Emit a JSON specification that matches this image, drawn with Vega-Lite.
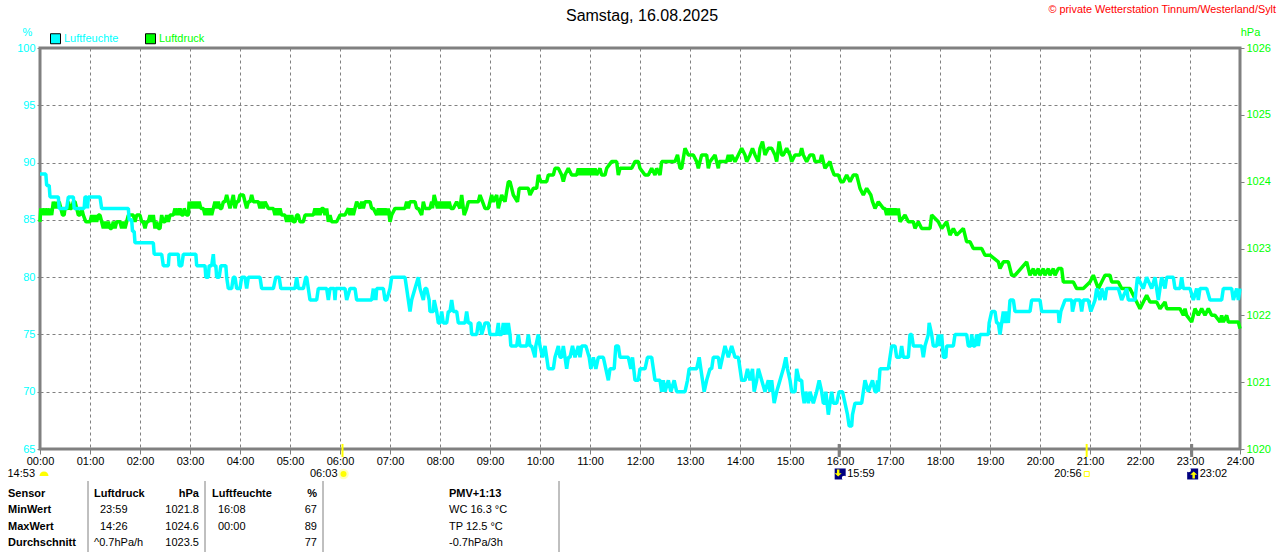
{
  "$schema": "https://vega.github.io/schema/vega-lite/v6.json",
  "background": "white",
  "padding": {"left": 5, "right": 4, "top": 2, "bottom": 0},
  "config": {"font": "Liberation Sans", "view": {"stroke": "#808080", "strokeWidth": 3}},
  "title": {"text": "Samstag, 16.08.2025", "fontSize": 16, "fontWeight": "normal", "color": "#000000", "anchor": "middle", "frame": "group", "dx": 2, "offset": -21},
  "datasets": {
    "feuchte": [
      {"t":0,"v":89},{"t":7,"v":89},{"t":8,"v":88},{"t":11,"v":88},{"t":12,"v":87},{"t":22,"v":87},{"t":23,"v":86},{"t":32,"v":86},{"t":34,"v":87},{"t":40,"v":87},{"t":41,"v":86},{"t":53,"v":86},{"t":54,"v":87},{"t":56,"v":87},{"t":57,"v":86},{"t":58,"v":87},{"t":72,"v":87},{"t":74,"v":86},{"t":106,"v":86},{"t":107,"v":85},{"t":110,"v":85},{"t":111,"v":84},{"t":113,"v":84},{"t":114,"v":83},{"t":136,"v":83},{"t":137,"v":82},{"t":146,"v":82},{"t":148,"v":81},{"t":154,"v":81},{"t":155,"v":82},{"t":166,"v":82},{"t":167,"v":81},{"t":170,"v":81},{"t":172,"v":82},{"t":187,"v":82},{"t":188,"v":81},{"t":198,"v":81},{"t":199,"v":80},{"t":202,"v":80},{"t":203,"v":81},{"t":206,"v":81},{"t":208,"v":82},{"t":209,"v":81},{"t":211,"v":81},{"t":212,"v":80},{"t":215,"v":80},{"t":217,"v":81},{"t":223,"v":81},{"t":224,"v":80},{"t":226,"v":79},{"t":230,"v":79},{"t":232,"v":80},{"t":234,"v":80},{"t":236,"v":79},{"t":240,"v":79},{"t":242,"v":80},{"t":246,"v":80},{"t":248,"v":79},{"t":250,"v":80},{"t":264,"v":80},{"t":266,"v":79},{"t":280,"v":79},{"t":283,"v":80},{"t":287,"v":80},{"t":289,"v":79},{"t":306,"v":79},{"t":308,"v":80},{"t":310,"v":79},{"t":316,"v":79},{"t":319,"v":80},{"t":320,"v":80},{"t":324,"v":78},{"t":332,"v":78},{"t":334,"v":79},{"t":344,"v":79},{"t":346,"v":78},{"t":348,"v":79},{"t":353,"v":79},{"t":354,"v":78},{"t":355,"v":79},{"t":366,"v":79},{"t":368,"v":78},{"t":372,"v":79},{"t":378,"v":79},{"t":380,"v":78},{"t":398,"v":78},{"t":400,"v":79},{"t":401,"v":78},{"t":402,"v":79},{"t":403,"v":78},{"t":404,"v":79},{"t":412,"v":79},{"t":414,"v":78},{"t":416,"v":78},{"t":420,"v":79},{"t":422,"v":80},{"t":438,"v":80},{"t":440,"v":79},{"t":442,"v":78},{"t":444,"v":77},{"t":446,"v":78},{"t":450,"v":79},{"t":454,"v":80},{"t":456,"v":79},{"t":460,"v":78},{"t":462,"v":79},{"t":464,"v":79},{"t":467,"v":78},{"t":468,"v":77},{"t":472,"v":77},{"t":473,"v":78},{"t":476,"v":77},{"t":478,"v":76},{"t":480,"v":76},{"t":482,"v":77},{"t":484,"v":76},{"t":488,"v":76},{"t":490,"v":77},{"t":492,"v":77},{"t":494,"v":78},{"t":496,"v":77},{"t":500,"v":77},{"t":502,"v":76},{"t":510,"v":76},{"t":512,"v":77},{"t":514,"v":76},{"t":517,"v":76},{"t":518,"v":75},{"t":524,"v":75},{"t":526,"v":76},{"t":528,"v":76},{"t":530,"v":75},{"t":534,"v":76},{"t":538,"v":76},{"t":540,"v":75},{"t":548,"v":75},{"t":550,"v":76},{"t":551,"v":75},{"t":554,"v":75},{"t":556,"v":76},{"t":557,"v":75},{"t":559,"v":76},{"t":560,"v":75},{"t":562,"v":76},{"t":564,"v":75},{"t":565,"v":74},{"t":572,"v":74},{"t":574,"v":75},{"t":576,"v":74},{"t":584,"v":74},{"t":586,"v":75},{"t":588,"v":74},{"t":590,"v":74},{"t":594,"v":73},{"t":595,"v":74},{"t":598,"v":75},{"t":600,"v":74},{"t":603,"v":73},{"t":606,"v":74},{"t":608,"v":73},{"t":610,"v":72},{"t":616,"v":72},{"t":618,"v":73},{"t":622,"v":74},{"t":624,"v":73},{"t":626,"v":73},{"t":628,"v":74},{"t":630,"v":73},{"t":632,"v":72},{"t":634,"v":73},{"t":636,"v":73},{"t":639,"v":74},{"t":642,"v":73},{"t":646,"v":74},{"t":648,"v":73},{"t":650,"v":74},{"t":655,"v":74},{"t":659,"v":73},{"t":661,"v":72},{"t":664,"v":73},{"t":667,"v":72},{"t":670,"v":73},{"t":676,"v":73},{"t":679,"v":72},{"t":682,"v":71},{"t":684,"v":72},{"t":689,"v":72},{"t":691,"v":74},{"t":694,"v":74},{"t":696,"v":73},{"t":706,"v":73},{"t":709,"v":72},{"t":711,"v":73},{"t":714,"v":71},{"t":718,"v":71},{"t":720,"v":72},{"t":726,"v":72},{"t":729,"v":73},{"t":734,"v":73},{"t":736,"v":72},{"t":738,"v":71},{"t":744,"v":71},{"t":746,"v":70},{"t":748,"v":71},{"t":750,"v":70},{"t":754,"v":71},{"t":757,"v":70},{"t":761,"v":71},{"t":764,"v":70},{"t":774,"v":70},{"t":777,"v":71},{"t":779,"v":72},{"t":788,"v":72},{"t":791,"v":73},{"t":793,"v":72},{"t":795,"v":71},{"t":797,"v":70},{"t":800,"v":71},{"t":804,"v":72},{"t":806,"v":72},{"t":808,"v":73},{"t":814,"v":73},{"t":816,"v":72},{"t":819,"v":73},{"t":822,"v":74},{"t":826,"v":73},{"t":830,"v":74},{"t":834,"v":73},{"t":838,"v":73},{"t":840,"v":72},{"t":842,"v":71},{"t":846,"v":71},{"t":849,"v":72},{"t":852,"v":71},{"t":855,"v":72},{"t":857,"v":70},{"t":860,"v":71},{"t":862,"v":72},{"t":866,"v":71},{"t":870,"v":70},{"t":874,"v":71},{"t":876,"v":70},{"t":878,"v":71},{"t":881,"v":69},{"t":884,"v":70},{"t":888,"v":71},{"t":892,"v":72},{"t":895,"v":73},{"t":897,"v":72},{"t":900,"v":71},{"t":902,"v":70},{"t":906,"v":70},{"t":908,"v":72},{"t":911,"v":71},{"t":914,"v":71},{"t":915,"v":70},{"t":917,"v":69},{"t":919,"v":70},{"t":922,"v":69},{"t":924,"v":70},{"t":928,"v":69},{"t":932,"v":70},{"t":935,"v":71},{"t":938,"v":70},{"t":940,"v":69},{"t":942,"v":69},{"t":943,"v":70},{"t":946,"v":68},{"t":948,"v":69},{"t":950,"v":70},{"t":952,"v":69},{"t":956,"v":69},{"t":959,"v":70},{"t":963,"v":70},{"t":966,"v":69},{"t":969,"v":68},{"t":971,"v":67},{"t":974,"v":67},{"t":975,"v":68},{"t":978,"v":69},{"t":986,"v":69},{"t":988,"v":70},{"t":990,"v":71},{"t":994,"v":70},{"t":999,"v":71},{"t":1002,"v":70},{"t":1004,"v":70},{"t":1005,"v":71},{"t":1006,"v":70},{"t":1008,"v":72},{"t":1018,"v":72},{"t":1020,"v":73},{"t":1022,"v":74},{"t":1026,"v":74},{"t":1028,"v":73},{"t":1032,"v":73},{"t":1034,"v":74},{"t":1036,"v":73},{"t":1042,"v":73},{"t":1043,"v":74},{"t":1044,"v":75},{"t":1046,"v":75},{"t":1048,"v":74},{"t":1058,"v":74},{"t":1060,"v":73},{"t":1062,"v":74},{"t":1066,"v":75},{"t":1067,"v":76},{"t":1070,"v":75},{"t":1072,"v":74},{"t":1076,"v":74},{"t":1078,"v":75},{"t":1080,"v":74},{"t":1082,"v":75},{"t":1084,"v":73},{"t":1087,"v":73},{"t":1088,"v":74},{"t":1096,"v":74},{"t":1098,"v":75},{"t":1112,"v":75},{"t":1114,"v":74},{"t":1117,"v":74},{"t":1118,"v":75},{"t":1120,"v":74},{"t":1122,"v":74},{"t":1124,"v":75},{"t":1126,"v":74},{"t":1128,"v":75},{"t":1138,"v":75},{"t":1139,"v":76},{"t":1142,"v":77},{"t":1146,"v":77},{"t":1148,"v":76},{"t":1150,"v":76},{"t":1152,"v":75},{"t":1154,"v":76},{"t":1156,"v":77},{"t":1158,"v":76},{"t":1160,"v":77},{"t":1162,"v":76},{"t":1164,"v":78},{"t":1168,"v":78},{"t":1170,"v":77},{"t":1188,"v":77},{"t":1190,"v":78},{"t":1200,"v":78},{"t":1202,"v":77},{"t":1222,"v":77},{"t":1223,"v":76},{"t":1225,"v":77},{"t":1230,"v":78},{"t":1238,"v":78},{"t":1239,"v":77},{"t":1242,"v":78},{"t":1248,"v":78},{"t":1250,"v":77},{"t":1252,"v":78},{"t":1258,"v":78},{"t":1261,"v":77},{"t":1266,"v":78},{"t":1268,"v":79},{"t":1272,"v":78},{"t":1274,"v":79},{"t":1278,"v":78},{"t":1280,"v":79},{"t":1294,"v":79},{"t":1298,"v":78},{"t":1304,"v":79},{"t":1306,"v":78},{"t":1314,"v":78},{"t":1317,"v":80},{"t":1324,"v":79},{"t":1328,"v":80},{"t":1334,"v":79},{"t":1338,"v":80},{"t":1342,"v":78},{"t":1346,"v":80},{"t":1350,"v":79},{"t":1352,"v":80},{"t":1360,"v":80},{"t":1362,"v":79},{"t":1368,"v":79},{"t":1370,"v":80},{"t":1372,"v":79},{"t":1380,"v":79},{"t":1384,"v":78},{"t":1388,"v":79},{"t":1390,"v":78},{"t":1392,"v":79},{"t":1400,"v":79},{"t":1404,"v":78},{"t":1418,"v":78},{"t":1420,"v":79},{"t":1430,"v":79},{"t":1432,"v":78},{"t":1436,"v":79},{"t":1438,"v":78},{"t":1440,"v":79}
    ],
    "druck": [
      {"t":0,"v":1023.4},{"t":1,"v":1023.6},{"t":2,"v":1023.5},{"t":3,"v":1023.6},{"t":5,"v":1023.5},{"t":6,"v":1023.6},{"t":8,"v":1023.5},{"t":9,"v":1023.6},{"t":11,"v":1023.5},{"t":12,"v":1023.6},{"t":14,"v":1023.5},{"t":15,"v":1023.6},{"t":16,"v":1023.7},{"t":18,"v":1023.6},{"t":19,"v":1023.7},{"t":21,"v":1023.6},{"t":23,"v":1023.7},{"t":25,"v":1023.6},{"t":27,"v":1023.5},{"t":29,"v":1023.5},{"t":30,"v":1023.6},{"t":33,"v":1023.6},{"t":34,"v":1023.7},{"t":36,"v":1023.6},{"t":38,"v":1023.6},{"t":40,"v":1023.7},{"t":42,"v":1023.7},{"t":44,"v":1023.6},{"t":46,"v":1023.5},{"t":48,"v":1023.5},{"t":50,"v":1023.6},{"t":52,"v":1023.5},{"t":55,"v":1023.4},{"t":60,"v":1023.4},{"t":62,"v":1023.5},{"t":64,"v":1023.4},{"t":66,"v":1023.5},{"t":68,"v":1023.4},{"t":70,"v":1023.5},{"t":72,"v":1023.5},{"t":74,"v":1023.4},{"t":76,"v":1023.3},{"t":78,"v":1023.4},{"t":80,"v":1023.3},{"t":82,"v":1023.4},{"t":84,"v":1023.3},{"t":86,"v":1023.3},{"t":88,"v":1023.4},{"t":90,"v":1023.3},{"t":92,"v":1023.4},{"t":96,"v":1023.4},{"t":98,"v":1023.3},{"t":100,"v":1023.4},{"t":102,"v":1023.3},{"t":104,"v":1023.4},{"t":106,"v":1023.5},{"t":112,"v":1023.5},{"t":114,"v":1023.4},{"t":116,"v":1023.5},{"t":120,"v":1023.5},{"t":122,"v":1023.4},{"t":124,"v":1023.4},{"t":126,"v":1023.3},{"t":128,"v":1023.4},{"t":130,"v":1023.4},{"t":132,"v":1023.5},{"t":134,"v":1023.4},{"t":136,"v":1023.5},{"t":138,"v":1023.3},{"t":140,"v":1023.4},{"t":142,"v":1023.3},{"t":144,"v":1023.3},{"t":146,"v":1023.5},{"t":148,"v":1023.4},{"t":150,"v":1023.4},{"t":152,"v":1023.5},{"t":154,"v":1023.4},{"t":156,"v":1023.5},{"t":160,"v":1023.5},{"t":162,"v":1023.6},{"t":163,"v":1023.5},{"t":165,"v":1023.6},{"t":166,"v":1023.5},{"t":168,"v":1023.6},{"t":170,"v":1023.5},{"t":172,"v":1023.5},{"t":173,"v":1023.6},{"t":176,"v":1023.5},{"t":178,"v":1023.5},{"t":179,"v":1023.7},{"t":181,"v":1023.6},{"t":183,"v":1023.7},{"t":185,"v":1023.6},{"t":187,"v":1023.7},{"t":189,"v":1023.6},{"t":191,"v":1023.7},{"t":193,"v":1023.6},{"t":196,"v":1023.6},{"t":198,"v":1023.5},{"t":200,"v":1023.6},{"t":202,"v":1023.5},{"t":204,"v":1023.6},{"t":206,"v":1023.5},{"t":208,"v":1023.6},{"t":210,"v":1023.7},{"t":212,"v":1023.6},{"t":214,"v":1023.7},{"t":216,"v":1023.6},{"t":218,"v":1023.6},{"t":220,"v":1023.7},{"t":222,"v":1023.7},{"t":224,"v":1023.8},{"t":226,"v":1023.7},{"t":228,"v":1023.6},{"t":230,"v":1023.7},{"t":232,"v":1023.8},{"t":234,"v":1023.6},{"t":236,"v":1023.7},{"t":238,"v":1023.7},{"t":240,"v":1023.8},{"t":244,"v":1023.8},{"t":246,"v":1023.7},{"t":248,"v":1023.6},{"t":250,"v":1023.7},{"t":252,"v":1023.7},{"t":254,"v":1023.8},{"t":256,"v":1023.7},{"t":262,"v":1023.7},{"t":264,"v":1023.6},{"t":266,"v":1023.7},{"t":268,"v":1023.6},{"t":270,"v":1023.7},{"t":274,"v":1023.6},{"t":280,"v":1023.6},{"t":282,"v":1023.5},{"t":284,"v":1023.6},{"t":286,"v":1023.5},{"t":288,"v":1023.6},{"t":290,"v":1023.5},{"t":294,"v":1023.5},{"t":296,"v":1023.4},{"t":298,"v":1023.5},{"t":300,"v":1023.4},{"t":302,"v":1023.5},{"t":304,"v":1023.4},{"t":306,"v":1023.4},{"t":308,"v":1023.5},{"t":310,"v":1023.5},{"t":312,"v":1023.4},{"t":316,"v":1023.4},{"t":318,"v":1023.5},{"t":328,"v":1023.5},{"t":330,"v":1023.6},{"t":332,"v":1023.5},{"t":334,"v":1023.6},{"t":336,"v":1023.5},{"t":338,"v":1023.6},{"t":340,"v":1023.6},{"t":342,"v":1023.5},{"t":344,"v":1023.6},{"t":346,"v":1023.4},{"t":348,"v":1023.5},{"t":350,"v":1023.4},{"t":356,"v":1023.4},{"t":360,"v":1023.5},{"t":366,"v":1023.5},{"t":370,"v":1023.6},{"t":372,"v":1023.5},{"t":374,"v":1023.6},{"t":376,"v":1023.5},{"t":380,"v":1023.7},{"t":384,"v":1023.6},{"t":386,"v":1023.7},{"t":388,"v":1023.6},{"t":390,"v":1023.7},{"t":396,"v":1023.7},{"t":398,"v":1023.6},{"t":400,"v":1023.6},{"t":404,"v":1023.5},{"t":406,"v":1023.6},{"t":408,"v":1023.5},{"t":410,"v":1023.6},{"t":412,"v":1023.5},{"t":414,"v":1023.6},{"t":416,"v":1023.5},{"t":418,"v":1023.6},{"t":420,"v":1023.4},{"t":422,"v":1023.5},{"t":426,"v":1023.6},{"t":438,"v":1023.6},{"t":440,"v":1023.7},{"t":442,"v":1023.6},{"t":444,"v":1023.7},{"t":450,"v":1023.7},{"t":452,"v":1023.6},{"t":454,"v":1023.6},{"t":458,"v":1023.5},{"t":460,"v":1023.7},{"t":462,"v":1023.6},{"t":468,"v":1023.6},{"t":470,"v":1023.7},{"t":471,"v":1023.6},{"t":473,"v":1023.8},{"t":475,"v":1023.7},{"t":477,"v":1023.6},{"t":479,"v":1023.7},{"t":481,"v":1023.6},{"t":483,"v":1023.7},{"t":485,"v":1023.6},{"t":487,"v":1023.7},{"t":489,"v":1023.6},{"t":491,"v":1023.7},{"t":493,"v":1023.6},{"t":496,"v":1023.6},{"t":500,"v":1023.7},{"t":504,"v":1023.6},{"t":506,"v":1023.8},{"t":509,"v":1023.5},{"t":512,"v":1023.6},{"t":514,"v":1023.7},{"t":526,"v":1023.7},{"t":528,"v":1023.8},{"t":531,"v":1023.7},{"t":534,"v":1023.6},{"t":538,"v":1023.6},{"t":540,"v":1023.7},{"t":542,"v":1023.8},{"t":544,"v":1023.7},{"t":548,"v":1023.8},{"t":550,"v":1023.6},{"t":554,"v":1023.8},{"t":558,"v":1023.7},{"t":562,"v":1024.0},{"t":564,"v":1024.0},{"t":568,"v":1023.8},{"t":573,"v":1023.7},{"t":575,"v":1023.9},{"t":586,"v":1023.9},{"t":588,"v":1023.8},{"t":592,"v":1023.9},{"t":596,"v":1023.9},{"t":598,"v":1024.1},{"t":601,"v":1024.0},{"t":608,"v":1024.0},{"t":610,"v":1024.1},{"t":616,"v":1024.1},{"t":618,"v":1024.2},{"t":622,"v":1024.2},{"t":626,"v":1024.1},{"t":628,"v":1024.0},{"t":630,"v":1024.1},{"t":634,"v":1024.2},{"t":638,"v":1024.1},{"t":644,"v":1024.1},{"t":646,"v":1024.2},{"t":648,"v":1024.1},{"t":650,"v":1024.2},{"t":652,"v":1024.1},{"t":654,"v":1024.2},{"t":656,"v":1024.1},{"t":658,"v":1024.2},{"t":660,"v":1024.1},{"t":662,"v":1024.2},{"t":664,"v":1024.1},{"t":666,"v":1024.2},{"t":668,"v":1024.1},{"t":672,"v":1024.2},{"t":674,"v":1024.1},{"t":678,"v":1024.1},{"t":680,"v":1024.2},{"t":686,"v":1024.3},{"t":692,"v":1024.3},{"t":694,"v":1024.1},{"t":696,"v":1024.2},{"t":710,"v":1024.2},{"t":714,"v":1024.3},{"t":718,"v":1024.3},{"t":720,"v":1024.2},{"t":726,"v":1024.1},{"t":730,"v":1024.1},{"t":734,"v":1024.2},{"t":738,"v":1024.1},{"t":740,"v":1024.2},{"t":744,"v":1024.1},{"t":746,"v":1024.3},{"t":762,"v":1024.3},{"t":765,"v":1024.4},{"t":768,"v":1024.2},{"t":770,"v":1024.2},{"t":774,"v":1024.5},{"t":778,"v":1024.4},{"t":784,"v":1024.4},{"t":788,"v":1024.3},{"t":790,"v":1024.2},{"t":794,"v":1024.4},{"t":800,"v":1024.4},{"t":802,"v":1024.2},{"t":804,"v":1024.3},{"t":810,"v":1024.4},{"t":814,"v":1024.2},{"t":815,"v":1024.3},{"t":824,"v":1024.3},{"t":826,"v":1024.4},{"t":828,"v":1024.3},{"t":830,"v":1024.4},{"t":834,"v":1024.3},{"t":838,"v":1024.4},{"t":842,"v":1024.5},{"t":846,"v":1024.4},{"t":848,"v":1024.3},{"t":852,"v":1024.4},{"t":855,"v":1024.5},{"t":858,"v":1024.4},{"t":862,"v":1024.3},{"t":864,"v":1024.5},{"t":867,"v":1024.6},{"t":870,"v":1024.4},{"t":874,"v":1024.5},{"t":878,"v":1024.5},{"t":882,"v":1024.4},{"t":884,"v":1024.3},{"t":887,"v":1024.6},{"t":890,"v":1024.4},{"t":892,"v":1024.4},{"t":896,"v":1024.5},{"t":900,"v":1024.4},{"t":902,"v":1024.3},{"t":906,"v":1024.4},{"t":912,"v":1024.4},{"t":914,"v":1024.5},{"t":916,"v":1024.4},{"t":920,"v":1024.3},{"t":924,"v":1024.4},{"t":928,"v":1024.4},{"t":930,"v":1024.3},{"t":936,"v":1024.3},{"t":938,"v":1024.4},{"t":940,"v":1024.3},{"t":942,"v":1024.2},{"t":948,"v":1024.3},{"t":950,"v":1024.2},{"t":953,"v":1024.1},{"t":958,"v":1024.1},{"t":961,"v":1024.0},{"t":964,"v":1024.0},{"t":968,"v":1024.1},{"t":972,"v":1024.0},{"t":976,"v":1024.1},{"t":980,"v":1024.1},{"t":982,"v":1024.0},{"t":984,"v":1023.9},{"t":988,"v":1023.8},{"t":992,"v":1023.9},{"t":997,"v":1023.8},{"t":999,"v":1023.7},{"t":1002,"v":1023.6},{"t":1006,"v":1023.7},{"t":1012,"v":1023.6},{"t":1014,"v":1023.6},{"t":1016,"v":1023.5},{"t":1018,"v":1023.6},{"t":1020,"v":1023.5},{"t":1022,"v":1023.6},{"t":1024,"v":1023.5},{"t":1026,"v":1023.6},{"t":1028,"v":1023.5},{"t":1030,"v":1023.6},{"t":1032,"v":1023.4},{"t":1038,"v":1023.5},{"t":1042,"v":1023.4},{"t":1048,"v":1023.4},{"t":1050,"v":1023.3},{"t":1054,"v":1023.4},{"t":1058,"v":1023.3},{"t":1068,"v":1023.3},{"t":1070,"v":1023.5},{"t":1078,"v":1023.4},{"t":1082,"v":1023.3},{"t":1088,"v":1023.4},{"t":1092,"v":1023.2},{"t":1096,"v":1023.3},{"t":1100,"v":1023.2},{"t":1108,"v":1023.3},{"t":1112,"v":1023.1},{"t":1116,"v":1023.1},{"t":1120,"v":1023.0},{"t":1130,"v":1023.0},{"t":1134,"v":1022.9},{"t":1140,"v":1022.9},{"t":1150,"v":1022.8},{"t":1152,"v":1022.7},{"t":1156,"v":1022.8},{"t":1162,"v":1022.8},{"t":1166,"v":1022.6},{"t":1170,"v":1022.6},{"t":1184,"v":1022.8},{"t":1188,"v":1022.6},{"t":1192,"v":1022.7},{"t":1194,"v":1022.6},{"t":1198,"v":1022.7},{"t":1200,"v":1022.6},{"t":1204,"v":1022.7},{"t":1206,"v":1022.6},{"t":1210,"v":1022.7},{"t":1212,"v":1022.6},{"t":1216,"v":1022.7},{"t":1218,"v":1022.6},{"t":1222,"v":1022.7},{"t":1226,"v":1022.7},{"t":1228,"v":1022.5},{"t":1240,"v":1022.5},{"t":1244,"v":1022.4},{"t":1252,"v":1022.4},{"t":1260,"v":1022.5},{"t":1264,"v":1022.6},{"t":1270,"v":1022.4},{"t":1274,"v":1022.5},{"t":1278,"v":1022.6},{"t":1284,"v":1022.6},{"t":1286,"v":1022.5},{"t":1294,"v":1022.5},{"t":1298,"v":1022.4},{"t":1308,"v":1022.4},{"t":1312,"v":1022.3},{"t":1316,"v":1022.2},{"t":1320,"v":1022.1},{"t":1324,"v":1022.2},{"t":1328,"v":1022.3},{"t":1332,"v":1022.2},{"t":1340,"v":1022.2},{"t":1344,"v":1022.1},{"t":1350,"v":1022.2},{"t":1352,"v":1022.1},{"t":1368,"v":1022.1},{"t":1372,"v":1022.0},{"t":1374,"v":1022.1},{"t":1376,"v":1022.0},{"t":1382,"v":1021.9},{"t":1386,"v":1022.1},{"t":1390,"v":1022.0},{"t":1394,"v":1022.1},{"t":1398,"v":1022.0},{"t":1402,"v":1022.1},{"t":1406,"v":1022.0},{"t":1410,"v":1022.0},{"t":1416,"v":1021.9},{"t":1418,"v":1022.0},{"t":1420,"v":1021.9},{"t":1424,"v":1022.0},{"t":1426,"v":1021.9},{"t":1438,"v":1021.9},{"t":1440,"v":1021.8}
    ],
    "ereignisse": [
      {"t":0,"label":"14:53","event":"Tag"},
      {"t":363,"label":"06:03","event":"Sonnenaufgang"},
      {"t":1256,"label":"20:56","event":"Sonnenuntergang"},
      {"t":959,"label":"15:59","event":"Monduntergang"},
      {"t":1382,"label":"23:02","event":"Mondaufgang"}
    ],
    "tabelle": [
      {"row":"Sensor","col":0,"text":"Sensor"},{"row":"MinWert","col":0,"text":"MinWert"},{"row":"MaxWert","col":0,"text":"MaxWert"},{"row":"Durchschnitt","col":0,"text":"Durchschnitt"},
      {"row":"Sensor","col":2,"text":"Luftdruck"},{"row":"MinWert","col":3,"text":"23:59"},{"row":"MaxWert","col":3,"text":"14:26"},{"row":"Durchschnitt","col":2,"text":"^0.7hPa/h"},
      {"row":"Sensor","col":4,"text":"hPa"},{"row":"MinWert","col":4,"text":"1021.8"},{"row":"MaxWert","col":4,"text":"1024.6"},{"row":"Durchschnitt","col":4,"text":"1023.5"},
      {"row":"Sensor","col":6,"text":"Luftfeuchte"},{"row":"MinWert","col":7,"text":"16:08"},{"row":"MaxWert","col":7,"text":"00:00"},
      {"row":"Sensor","col":8,"text":"%"},{"row":"MinWert","col":8,"text":"67"},{"row":"MaxWert","col":8,"text":"89"},{"row":"Durchschnitt","col":8,"text":"77"},
      {"row":"Sensor","col":10,"text":"PMV+1:13"},{"row":"MinWert","col":10,"text":"WC 16.3 °C"},{"row":"MaxWert","col":10,"text":"TP 12.5 °C"},{"row":"Durchschnitt","col":10,"text":"-0.7hPa/3h"}
    ],
    "trenner": [{"col":1},{"col":5},{"col":9},{"col":11}],
    "legende": [{"sensor":"Luftfeuchte"},{"sensor":"Luftdruck"}]
  },
  "vconcat": [
    {
      "width": 1200,
      "height": 401,
      "layer": [
        {
          "data": {"name": "druck"},
          "mark": {"type": "line", "strokeWidth": 3.5, "strokeJoin": "bevel"},
          "encoding": {
            "x": {
              "field": "t",
              "type": "quantitative",
              "scale": {"domain": [0, 1440], "nice": false, "zero": false},
              "axis": {
                "values": [0,60,120,180,240,300,360,420,480,540,600,660,720,780,840,900,960,1020,1080,1140,1200,1260,1320,1380,1440],
                "labelExpr": "(datum.value/60<10?'0':'')+(datum.value/60)+':00'",
                "title": null,
                "domain": false,
                "tickColor": "#808080",
                "tickSize": 5,
                "labelColor": "#000000",
                "labelFontSize": 11,
                "labelPadding": 1,
                "labelFlush": false,
                "labelOverlap": false,
                "grid": true,
                "gridColor": "#808080",
                "gridOpacity": 1,
                "gridDash": [3, 3]
              }
            },
            "y": {
              "field": "v",
              "type": "quantitative",
              "scale": {"domain": [1020, 1026], "nice": false, "zero": false},
              "axis": {
                "orient": "right",
                "values": [1020,1021,1022,1023,1024,1025,1026],
                "format": "d",
                "title": "hPa",
                "titleAngle": 0,
                "titleColor": "#00ff00",
                "titleFontSize": 11,
                "titleFontWeight": "normal",
                "titleX": 10,
                "titleY": -11,
                "titleAlign": "center",
                "domain": false,
                "grid": false,
                "tickColor": "#808080",
                "tickSize": 4,
                "labelColor": "#00ff00",
                "labelFontSize": 11,
                "labelPadding": 2
              }
            },
            "color": {"value": "#00ff00"}
          }
        },
        {
          "layer": [
            {
              "data": {"name": "feuchte"},
              "mark": {"type": "line", "strokeWidth": 3.5, "strokeJoin": "bevel", "color": "#00ffff"},
              "encoding": {
                "x": {"field": "t", "type": "quantitative"},
                "y": {
                  "field": "v",
                  "type": "quantitative",
                  "scale": {"domain": [65, 100], "nice": false, "zero": false},
                  "axis": {
                    "values": [65,70,75,80,85,90,95,100],
                    "title": "%",
                    "titleAngle": 0,
                    "titleColor": "#00ffff",
                    "titleFontSize": 11,
                    "titleFontWeight": "normal",
                    "titleX": -13,
                    "titleY": -11,
                    "titleAlign": "center",
                    "domain": false,
                    "grid": true,
                    "gridColor": "#808080",
                    "gridOpacity": 1,
                    "gridDash": [3, 3],
                    "tickColor": "#808080",
                    "tickSize": 3,
                    "labelColor": "#00ffff",
                    "labelFontSize": 11,
                    "labelPadding": 2
                  }
                }
              }
            },
            {
              "data": {"name": "legende"},
              "mark": {"type": "point", "shape": "square", "filled": true, "opacity": 0},
              "encoding": {
                "fill": {
                  "field": "sensor",
                  "type": "nominal",
                  "scale": {"domain": ["Luftfeuchte", "Luftdruck"], "range": ["#00ffff", "#00ff00"]},
                  "legend": {
                    "orient": "none",
                    "legendX": 10,
                    "legendY": -15,
                    "direction": "horizontal",
                    "columns": 2,
                    "title": null,
                    "symbolType": "square",
                    "symbolSize": 100,
                    "symbolOpacity": 1,
                    "symbolStrokeColor": "#000000",
                    "symbolStrokeWidth": 1,
                    "labelFontSize": 11,
                    "labelOffset": 3,
                    "columnPadding": 24,
                    "encode": {
                      "symbols": {"update": {"opacity": {"value": 1}, "stroke": {"value": "#000000"}}},
                      "labels": {"update": {
                        "fill": {"signal": "datum.value=='Luftdruck'?'#00ff00':'#00ffff'"}
                      }}
                    }
                  }
                }
              }
            },
            {
              "data": {"name": "ereignisse"},
              "transform": [{"filter": "datum.event=='Sonnenaufgang'||datum.event=='Sonnenuntergang'"}],
              "mark": {"type": "rule", "color": "#ffff00", "strokeWidth": 2},
              "encoding": {"x": {"field": "t", "type": "quantitative"}, "y": {"datum": 65.44}, "y2": {"datum": 64.3}}
            },
            {
              "data": {"name": "ereignisse"},
              "transform": [{"filter": "datum.event=='Monduntergang'||datum.event=='Mondaufgang'"}],
              "mark": {"type": "rule", "color": "#808080", "strokeWidth": 3},
              "encoding": {"x": {"field": "t", "type": "quantitative"}, "y": {"datum": 65.44}, "y2": {"datum": 64.3}}
            },
            {
              "data": {"name": "ereignisse"},
              "transform": [{"filter": "datum.event=='Tag'||datum.event=='Sonnenaufgang'||datum.event=='Sonnenuntergang'"}],
              "mark": {"type": "text", "align": "right", "fontSize": 11, "dx": -5, "color": "#000000"},
              "encoding": {"x": {"field": "t", "type": "quantitative"}, "y": {"datum": 62.82}, "text": {"field": "label"}}
            },
            {
              "data": {"name": "ereignisse"},
              "transform": [{"filter": "datum.event=='Monduntergang'||datum.event=='Mondaufgang'"}],
              "mark": {"type": "text", "align": "left", "fontSize": 11, "dx": 8, "color": "#000000"},
              "encoding": {"x": {"field": "t", "type": "quantitative"}, "y": {"datum": 62.82}, "text": {"field": "label"}}
            },
            {
              "data": {"name": "ereignisse"},
              "transform": [{"filter": "datum.event=='Tag'"}],
              "mark": {"type": "point", "shape": "M-1,0.45A1,1 0 0 1 1,0.45Z", "size": 81, "filled": true, "opacity": 1, "color": "#ffff00", "xOffset": 4},
              "encoding": {"x": {"field": "t", "type": "quantitative"}, "y": {"datum": 62.82}}
            },
            {
              "data": {"name": "ereignisse"},
              "transform": [{"filter": "datum.event=='Sonnenaufgang'"}],
              "mark": {"type": "point", "shape": "circle", "size": 110, "filled": true, "opacity": 0.25, "color": "#ffff00", "xOffset": 1},
              "encoding": {"x": {"field": "t", "type": "quantitative"}, "y": {"datum": 62.82}}
            },
            {
              "data": {"name": "ereignisse"},
              "transform": [{"filter": "datum.event=='Sonnenaufgang'"}],
              "mark": {"type": "point", "shape": "circle", "size": 36, "filled": true, "opacity": 1, "color": "#ffff00", "xOffset": 1},
              "encoding": {"x": {"field": "t", "type": "quantitative"}, "y": {"datum": 62.82}}
            },
            {
              "data": {"name": "ereignisse"},
              "transform": [{"filter": "datum.event=='Sonnenuntergang'"}],
              "mark": {"type": "point", "shape": "square", "size": 25, "filled": false, "opacity": 1, "color": "#ffff00", "strokeWidth": 1},
              "encoding": {"x": {"field": "t", "type": "quantitative"}, "y": {"datum": 62.82}}
            },
            {
              "data": {"name": "ereignisse"},
              "transform": [{"filter": "datum.event=='Monduntergang'||datum.event=='Mondaufgang'"}],
              "mark": {"type": "point", "shape": "square", "size": 121, "filled": true, "opacity": 1, "color": "#000080", "xOffset": 1},
              "encoding": {"x": {"field": "t", "type": "quantitative"}, "y": {"datum": 62.82}}
            },
            {
              "data": {"name": "ereignisse"},
              "transform": [{"filter": "datum.event=='Monduntergang'"}],
              "mark": {"type": "point", "shape": "M-0.35,-1H0.35V0.1H1L0,1L-1,0.1H-0.35Z", "size": 49, "filled": true, "opacity": 1, "color": "#ffff00", "xOffset": -1, "yOffset": -1},
              "encoding": {"x": {"field": "t", "type": "quantitative"}, "y": {"datum": 62.82}}
            },
            {
              "data": {"name": "ereignisse"},
              "transform": [{"filter": "datum.event=='Monduntergang'"}],
              "mark": {"type": "point", "shape": "circle", "size": 22, "filled": true, "opacity": 1, "color": "#ffffff", "xOffset": 5, "yOffset": 4},
              "encoding": {"x": {"field": "t", "type": "quantitative"}, "y": {"datum": 62.82}}
            },
            {
              "data": {"name": "ereignisse"},
              "transform": [{"filter": "datum.event=='Mondaufgang'"}],
              "mark": {"type": "point", "shape": "M-0.35,1H0.35V-0.1H1L0,-1L-1,-0.1H-0.35Z", "size": 49, "filled": true, "opacity": 1, "color": "#ffff00", "xOffset": 2, "yOffset": 1},
              "encoding": {"x": {"field": "t", "type": "quantitative"}, "y": {"datum": 62.82}}
            },
            {
              "data": {"name": "ereignisse"},
              "transform": [{"filter": "datum.event=='Mondaufgang'"}],
              "mark": {"type": "point", "shape": "circle", "size": 22, "filled": true, "opacity": 1, "color": "#ffffff", "xOffset": -3, "yOffset": -4},
              "encoding": {"x": {"field": "t", "type": "quantitative"}, "y": {"datum": 62.82}}
            },
            {
              "data": {"values": [{"note": "© private Wetterstation Tinnum/Westerland/Sylt"}]},
              "mark": {"type": "text", "align": "right", "color": "#ff0000", "fontSize": 10.85, "dx": 36, "dy": -38},
              "encoding": {"x": {"datum": 1440}, "y": {"datum": 100}, "text": {"field": "note"}}
            }
          ]
        }
      ],
      "resolve": {"scale": {"y": "independent"}}
    },
    {
      "width": 1200,
      "height": 71,
      "view": {"stroke": null},
      "encoding": {
        "x": {
          "field": "col",
          "type": "quantitative",
          "scale": {"domain": [0,1,2,3,4,5,6,7,8,9,10,11], "range": [-32,48,54,60,159,165,172,178,277,283,409,519]},
          "axis": null
        }
      },
      "layer": [
        {
          "data": {"name": "trenner"},
          "mark": {"type": "rule", "color": "#808080"},
          "encoding": {}
        },
        {
          "data": {"name": "tabelle"},
          "transform": [{"filter": "(datum.col!=4&&datum.col!=8)&&datum.row!='Sensor'&&datum.col!=0"}],
          "mark": {"type": "text", "align": "left", "fontSize": 11, "color": "#000000"},
          "encoding": {
            "y": {"field": "row", "type": "nominal", "sort": null, "scale": {"domain": ["Sensor","MinWert","MaxWert","Durchschnitt"], "range": [13, 62], "padding": 0}, "axis": null},
            "text": {"field": "text"}
          }
        },
        {
          "data": {"name": "tabelle"},
          "transform": [{"filter": "(datum.col!=4&&datum.col!=8)&&(datum.row=='Sensor'||datum.col==0)"}],
          "mark": {"type": "text", "align": "left", "fontSize": 11, "fontWeight": "bold", "color": "#000000"},
          "encoding": {
            "y": {"field": "row", "type": "nominal", "sort": null, "scale": {"domain": ["Sensor","MinWert","MaxWert","Durchschnitt"], "range": [13, 62], "padding": 0}, "axis": null},
            "text": {"field": "text"}
          }
        },
        {
          "data": {"name": "tabelle"},
          "transform": [{"filter": "(datum.col==4||datum.col==8)&&datum.row!='Sensor'"}],
          "mark": {"type": "text", "align": "right", "fontSize": 11, "color": "#000000"},
          "encoding": {
            "y": {"field": "row", "type": "nominal", "sort": null, "scale": {"domain": ["Sensor","MinWert","MaxWert","Durchschnitt"], "range": [13, 62], "padding": 0}, "axis": null},
            "text": {"field": "text"}
          }
        },
        {
          "data": {"name": "tabelle"},
          "transform": [{"filter": "(datum.col==4||datum.col==8)&&datum.row=='Sensor'"}],
          "mark": {"type": "text", "align": "right", "fontSize": 11, "fontWeight": "bold", "color": "#000000"},
          "encoding": {
            "y": {"field": "row", "type": "nominal", "sort": null, "scale": {"domain": ["Sensor","MinWert","MaxWert","Durchschnitt"], "range": [13, 62], "padding": 0}, "axis": null},
            "text": {"field": "text"}
          }
        }
      ]
    }
  ],
  "spacing": 32,
  "bounds": "flush"
}
